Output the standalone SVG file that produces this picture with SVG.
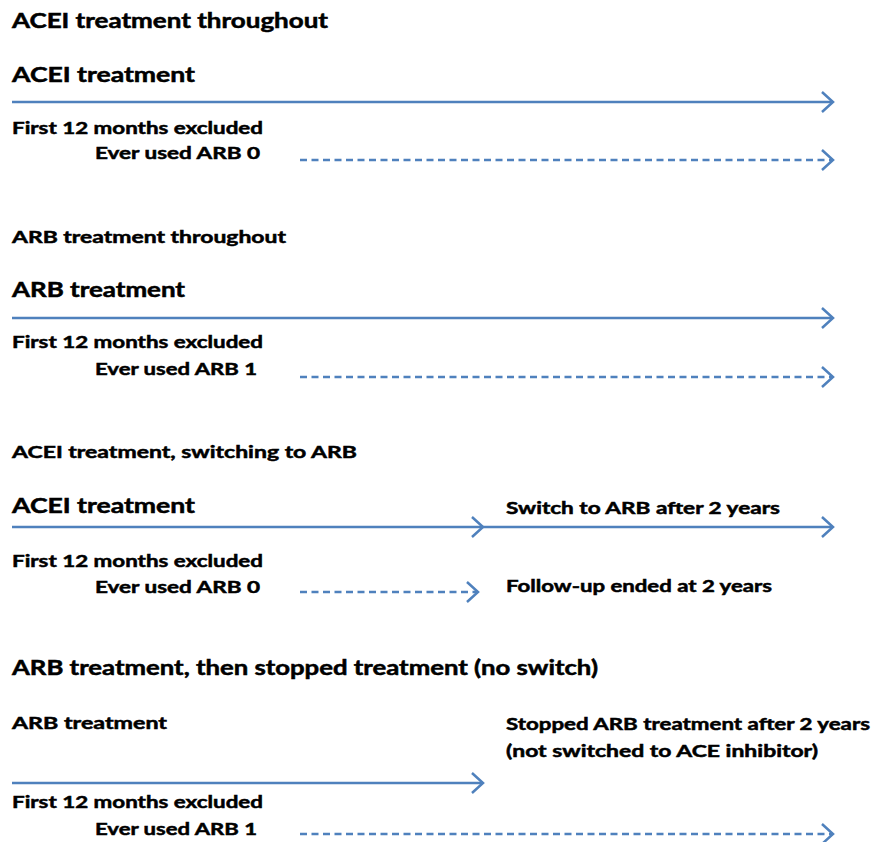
<svg xmlns="http://www.w3.org/2000/svg" width="883" height="842" viewBox="0 0 883 842">
<style>
text{font-family:Lato,"Open Sans","Liberation Sans",sans-serif;font-weight:bold;fill:#000;stroke:#000;stroke-width:0.5}
.big{font-size:20px}
.med{font-size:17px}
.sml{font-size:17px}
.ln{stroke:#4F81BD;stroke-width:2.5;fill:none}
.dash{stroke-dasharray:7 4.5}
</style>
<defs>
<marker id="chev" markerUnits="userSpaceOnUse" viewBox="-13 -12 15 24" markerWidth="15" markerHeight="24" refX="0" refY="0" orient="auto" overflow="visible">
<path d="M-11,-10 L0,0 L-11,10" fill="none" stroke="#4F81BD" stroke-width="2.5" stroke-dasharray="none"/>
</marker>
</defs>
<rect width="883" height="842" fill="#fff"/>
<g id="connectors">
<line class="ln" x1="12" y1="102" x2="833" y2="102" marker-end="url(#chev)"/>
<line class="ln dash" x1="300" y1="160" x2="833" y2="160" marker-end="url(#chev)"/>
<line class="ln" x1="12" y1="318" x2="833" y2="318" marker-end="url(#chev)"/>
<line class="ln dash" x1="300" y1="377" x2="833" y2="377" marker-end="url(#chev)"/>
<line class="ln" x1="12" y1="527" x2="483" y2="527" marker-end="url(#chev)"/>
<line class="ln" x1="483" y1="527" x2="833" y2="527" marker-end="url(#chev)"/>
<line class="ln dash" x1="300" y1="592" x2="478" y2="592" marker-end="url(#chev)"/>
<line class="ln" x1="12" y1="783" x2="483" y2="783" marker-end="url(#chev)"/>
<line class="ln dash" x1="300" y1="834" x2="833" y2="834" marker-end="url(#chev)"/>
</g>
<g id="section1">
<text id="t1" class="big" x="12" y="28" textLength="316" lengthAdjust="spacingAndGlyphs">ACEI treatment throughout</text>
<text id="t2" class="big" x="12" y="82" textLength="183" lengthAdjust="spacingAndGlyphs">ACEI treatment</text>
<text id="t3" class="med" x="12" y="134" textLength="251" lengthAdjust="spacingAndGlyphs">First 12 months excluded</text>
<text id="t4" class="med" x="95" y="159" textLength="165" lengthAdjust="spacingAndGlyphs">Ever used ARB 0</text>
</g>
<g id="section2">
<text id="t5" class="sml" x="12" y="243" textLength="274" lengthAdjust="spacingAndGlyphs">ARB treatment throughout</text>
<text id="t6" class="big" x="12" y="297" textLength="173" lengthAdjust="spacingAndGlyphs">ARB treatment</text>
<text id="t7" class="med" x="12" y="348" textLength="251" lengthAdjust="spacingAndGlyphs">First 12 months excluded</text>
<text id="t8" class="med" x="95" y="375" textLength="162" lengthAdjust="spacingAndGlyphs">Ever used ARB 1</text>
</g>
<g id="section3">
<text id="t9" class="sml" x="12" y="458" textLength="345" lengthAdjust="spacingAndGlyphs">ACEI treatment, switching to ARB</text>
<text id="t10" class="big" x="12" y="513" textLength="183" lengthAdjust="spacingAndGlyphs">ACEI treatment</text>
<text id="t11" class="med" x="506" y="514" textLength="274" lengthAdjust="spacingAndGlyphs">Switch to ARB after 2 years</text>
<text id="t12" class="med" x="12" y="567" textLength="251" lengthAdjust="spacingAndGlyphs">First 12 months excluded</text>
<text id="t13" class="med" x="95" y="593" textLength="165" lengthAdjust="spacingAndGlyphs">Ever used ARB 0</text>
<text id="t14" class="med" x="506" y="592" textLength="266" lengthAdjust="spacingAndGlyphs">Follow-up ended at 2 years</text>
</g>
<g id="section4">
<text id="t15" class="big" x="12" y="675" textLength="586" lengthAdjust="spacingAndGlyphs">ARB treatment, then stopped treatment (no switch)</text>
<text id="t16" class="sml" x="12" y="729" textLength="155" lengthAdjust="spacingAndGlyphs">ARB treatment</text>
<text id="t17" class="med" x="506" y="730" textLength="364" lengthAdjust="spacingAndGlyphs">Stopped ARB treatment after 2 years</text>
<text id="t18" class="med" x="506" y="757" textLength="312" lengthAdjust="spacingAndGlyphs">(not switched to ACE inhibitor)</text>
<text id="t19" class="med" x="12" y="808" textLength="251" lengthAdjust="spacingAndGlyphs">First 12 months excluded</text>
<text id="t20" class="med" x="95" y="835" textLength="162" lengthAdjust="spacingAndGlyphs">Ever used ARB 1</text>
</g>
</svg>
